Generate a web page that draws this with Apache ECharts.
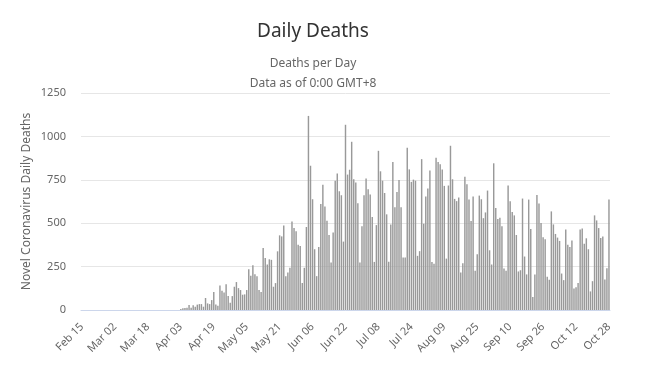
<!DOCTYPE html>
<html>
<head>
<meta charset="utf-8">
<script src="https://cdn.jsdelivr.net/npm/echarts@6/dist/echarts.min.js"></script>
<style>
html,body{margin:0;padding:0;background:#fff;}
#chart{width:648px;height:372px;}
</style>
</head>
<body>
<div id="chart"></div>
<script>
// Category range: daily from Feb 15 to Oct 28 (2020)
const startDate = [2020, 1, 15]; // year, month index, day
const dayCount = 257;
const monthNames = ['Jan','Feb','Mar','Apr','May','Jun','Jul','Aug','Sep','Oct','Nov','Dec'];

// Daily deaths
const deathsFebMar = [0,0,0,0,0,0,0,0,0,0,0,0,0,0,0,0,0,0,0,0,0,0,0,0,0,0,0,0,0,0,0,0,0,
  0,0,0,0,0,0,0,0,0,0,0,0,0,0,0];
const deathsApr = [6,10,11,13,29,13,27,19,31,34,34,19,69,38,34,57,103,31,25,141,111,101,149,80,42,80,134,161,126,115,88,90];
const deathsMay = [115,235,197,258,206,195,115,103,357,300,262,292,289,134,155,338,430,424,487,195,216,243,510,472,453,376,369,155,243,478,1118,831,638,350];
const deathsJun = [195,363,610,722,596,514,432,273,447,745,787,684,661,394,1067];
const deathsJunJul = [780,808,969,753,734,615,273,482,661,757,696,665,535,277,489,917,799];
const deathsJul = [745,674,551,278,493,852,592,680,749,592,303,303,934,810,738,751,745,312,339,869,497,654,700,803,277,267,877,852,839,810,715,296];
const deathsAug = [717,946,753,640,627,648,216,269,768,724,636,512,654,226,321,659,638,529,562,688,344,262,845,587,524,531,482,239];
const deathsSep = [226,717,627,564,545,432,222,229,642,308,205,636,466,75,205,663,613,501,419,407,191,174,568,493,438,417,398,210,172,464,376,363,401,124];
const deathsOct = [131,155,464,470,382,413,350,107,166,545,516,472,415,424,176,241,636];

const yTicks = {min: 0, max: 1250, interval: 250};

const values = [].concat(deathsFebMar, deathsApr, deathsMay, deathsJun, deathsJunJul, deathsJul, deathsAug, deathsSep, deathsOct);

const categories = [];
for (let i = 0; i < dayCount; i++) {
  const d = new Date(startDate[0], startDate[1], startDate[2] + i);
  const dd = d.getDate();
  categories.push(monthNames[d.getMonth()] + ' ' + (dd < 10 ? '0' + dd : dd));
}

const FONT = 'Noto Sans';
const chart = echarts.init(document.getElementById('chart'), null, {renderer: 'canvas'});
chart.setOption({
  animation: false,
  backgroundColor: '#ffffff',
  title: {
    text: 'Daily Deaths',
    subtext: 'Deaths per Day\nData as of 0:00 GMT+8',
    left: 308,
    top: 17,
    textAlign: 'center',
    itemGap: 13,
    textStyle: {fontFamily: FONT, fontSize: 19, fontWeight: 'normal', color: '#333333'},
    subtextStyle: {fontFamily: FONT, fontSize: 12, color: '#666666', lineHeight: 20}
  },
  grid: {left: 81, right: 38, top: 93, bottom: 62, containLabel: false},
  xAxis: {
    type: 'category',
    data: categories,
    boundaryGap: true,
    axisLine: {show: true, lineStyle: {color: '#ccd6eb', width: 1}},
    axisTick: {show: false},
    axisLabel: {
      interval: 15,
      rotate: 45,
      margin: 15,
      color: '#666666',
      fontFamily: FONT,
      fontSize: 11
    },
    splitLine: {show: false}
  },
  yAxis: {
    type: 'value',
    min: yTicks.min,
    max: yTicks.max,
    interval: yTicks.interval,
    name: 'Novel Coronavirus Daily Deaths',
    nameLocation: 'middle',
    nameGap: 48,
    nameMoveOverlap: false,
    nameTextStyle: {fontFamily: FONT, fontSize: 12, color: '#666666'},
    axisLine: {show: false},
    axisTick: {show: false},
    axisLabel: {color: '#666666', fontFamily: FONT, fontSize: 11, margin: 15,
      formatter: function (v) { return String(v); }},
    splitLine: {lineStyle: {color: '#e6e6e6', width: 1}}
  },
  series: [{
    type: 'bar',
    data: values,
    barCategoryGap: '30%',
    itemStyle: {color: '#999999'},
    silent: true
  }]
});
</script>
</body>
</html>
